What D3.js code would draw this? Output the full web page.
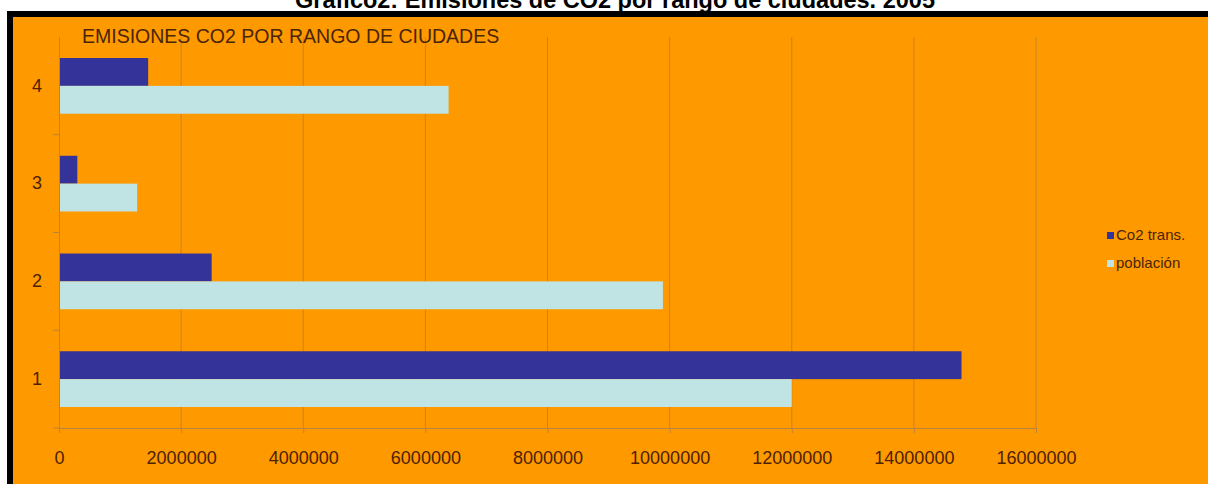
<!DOCTYPE html>
<html>
<head>
<meta charset="utf-8">
<script src="https://cdn.jsdelivr.net/npm/d3@7"></script>
<style>
    body { margin: 0; background: #ffffff; }
    text { font-family: "Liberation Sans", Arial, sans-serif; }
</style>
</head>
<body>
<script>

// chart data
var categories = ["4", "3", "2", "1"];
var seriesNames = ["Co2 trans.", "población"];
var co2Trans = [1460000, 300000, 2500000, 14780000];
var poblacion = [6380000, 1280000, 9890000, 12000000];
var xTicks = [0, 2000000, 4000000, 6000000, 8000000, 10000000, 12000000, 14000000, 16000000];

var seriesColors = ["#333399", "#c0e3e4"];

var width = 1208;
var height = 484;

var plot = { left: 59, right: 1036, top: 37, bottom: 428 };

var svg = d3.select("body").append("svg")
    .attr("width", width)
    .attr("height", height);

// black frame + orange panel
svg.append("rect")
    .attr("x", 7).attr("y", 11)
    .attr("width", width - 7).attr("height", height - 11)
    .attr("fill", "#000000");
svg.append("rect")
    .attr("x", 13).attr("y", 17)
    .attr("width", width - 13).attr("height", height - 17)
    .attr("fill", "#ff9900");

// page title (only its lower half shows, as in the scan)
svg.append("text")
    .attr("x", 615)
    .attr("y", 8)
    .attr("text-anchor", "middle")
    .attr("font-size", "23.5px")
    .attr("font-weight", "bold")
    .attr("fill", "#000000")
    .text("Grafico2: Emisiones de CO2 por rango de ciudades. 2005");

// set the ranges
var xScale = d3.scaleLinear()
    .domain([0, 16000000])
    .range([plot.left, plot.right]);

var yScale = d3.scaleBand()
    .domain(categories)
    .range([plot.top, plot.bottom])
    .paddingInner(0.43)
    .paddingOuter(0.215);

var ySub = d3.scaleBand()
    .domain(seriesNames)
    .range([0, yScale.bandwidth()]);

// vertical gridlines
svg.append("g")
    .selectAll("line")
    .data(xTicks.slice(1))
    .enter()
    .append("line")
    .attr("x1", function(d) { return xScale(d); })
    .attr("x2", function(d) { return xScale(d); })
    .attr("y1", plot.top)
    .attr("y2", plot.bottom)
    .attr("stroke", "#c4852a")
    .attr("stroke-width", 1);

// format the data
var data = [];
categories.forEach(function(c, i) {
    data.push({ cat: c, series: seriesNames[0], value: co2Trans[i] });
    data.push({ cat: c, series: seriesNames[1], value: poblacion[i] });
});

// bars
svg.append("g")
    .selectAll("rect")
    .data(data)
    .enter()
    .append("rect")
    .attr("x", xScale(0))
    .attr("y", function(d) { return yScale(d.cat) + ySub(d.series); })
    .attr("width", function(d) { return xScale(d.value) - xScale(0); })
    .attr("height", ySub.bandwidth())
    .attr("fill", function(d) { return seriesColors[seriesNames.indexOf(d.series)]; });

// X axis
var xAxis = svg.append("g")
    .attr("transform", "translate(0," + plot.bottom + ")")
    .call(d3.axisBottom(xScale)
        .tickValues(xTicks)
        .tickFormat(d3.format("d"))
        .tickSize(5)
        .tickPadding(18));
xAxis.select(".domain").attr("stroke", "#b88440");
xAxis.selectAll(".tick line").attr("stroke", "#b88440");
xAxis.selectAll(".tick text")
    .attr("fill", "#4d2200")
    .attr("font-size", "18px")
    .attr("font-family", "'Liberation Sans', Arial, sans-serif");

// Y axis
var yAxis = svg.append("g")
    .attr("transform", "translate(" + plot.left + ",0)")
    .call(d3.axisLeft(yScale).tickSize(0).tickPadding(17));
yAxis.select(".domain").attr("stroke", "#b88440");
yAxis.selectAll(".tick text")
    .attr("fill", "#4d2200")
    .attr("font-size", "18px")
    .attr("font-family", "'Liberation Sans', Arial, sans-serif");

// y tick marks between categories
svg.append("g")
    .selectAll("line")
    .data(categories)
    .enter()
    .append("line")
    .attr("x1", plot.left - 6)
    .attr("x2", plot.left)
    .attr("y1", function(d) { return yScale(d) + yScale.bandwidth() + yScale.step() * 0.215; })
    .attr("y2", function(d) { return yScale(d) + yScale.bandwidth() + yScale.step() * 0.215; })
    .attr("stroke", "#b88440");

// chart title
svg.append("text")
    .attr("x", 82)
    .attr("y", 43)
    .attr("font-size", "19.5px")
    .attr("fill", "#4a2508")
    .text("EMISIONES CO2 POR RANGO DE CIUDADES");

// legend
var legend = svg.append("g")
    .selectAll("g")
    .data(seriesNames)
    .enter()
    .append("g")
    .attr("transform", function(d, i) { return "translate(1107," + (232 + i * 28) + ")"; });

legend.append("rect")
    .attr("width", 7)
    .attr("height", 7)
    .attr("fill", function(d, i) { return seriesColors[i]; });

legend.append("text")
    .attr("x", 9)
    .attr("y", 8)
    .attr("font-size", "15px")
    .attr("fill", "#4a2508")
    .text(function(d) { return d; });

</script>
</body>
</html>
